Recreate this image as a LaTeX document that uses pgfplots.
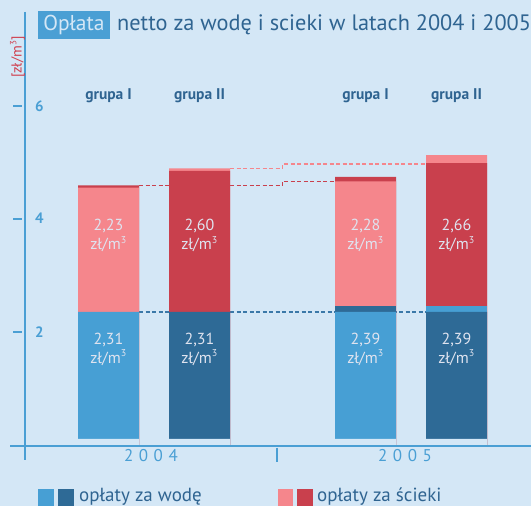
\documentclass[border=0pt]{standalone}
\usepackage{fontspec}
\setmainfont{PT Sans}
\usepackage{pgfplots}
\pgfplotsset{compat=1.18}
\definecolor{bg}{HTML}{D4E7F6}
\definecolor{lblue}{HTML}{479FD4}
\definecolor{dblue}{HTML}{2E6A96}
\definecolor{pinkc}{HTML}{F5868C}
\definecolor{dred}{HTML}{C9404D}
\definecolor{txtblue}{HTML}{2F6491}
\definecolor{axblue}{HTML}{4A9FD4}
\definecolor{inner}{HTML}{DFE3EF}
\definecolor{ylab}{HTML}{D0404F}
\definecolor{dashblue}{HTML}{3A78A8}
\begin{document}
\begin{tikzpicture}[x=1pt,y=1pt]
\path[use as bounding box, clip] (0,0) rectangle (531,506);
\fill[bg] (0,0) rectangle (531,506);
\begin{axis}[at={(0,0)}, anchor=south west, scale only axis,
  width=531pt, height=506pt, xmin=0, xmax=531, ymin=-1.0689, ymax=7.8710,
  hide axis, clip=false,
  mybar/.style={ybar, bar width=61pt, bar shift=0pt, draw=none}]
% connector lines
\addplot[dashblue, line width=1.4pt, dash pattern=on 4pt off 2.5pt] coordinates {(139,2.359) (426,2.359)};
\addplot[dred, line width=1.4pt, dash pattern=on 4pt off 2.5pt] coordinates {(139,4.590) (282.7,4.590) (282.7,4.668) (335,4.668)};
\addplot[pinkc, line width=1.4pt, dash pattern=on 4pt off 2.5pt] coordinates {(230,4.8975) (282.7,4.8975) (282.7,4.9735) (426,4.9735)};
% bars (cumulative tops, drawn from the top layer down)
\addplot[mybar, fill=dred] coordinates {(108.5,4.594) (365.5,4.744)};
\addplot[mybar, fill=pinkc] coordinates {(199.5,4.898) (456.5,5.132)};
\addplot[mybar, fill=pinkc] coordinates {(108.5,4.555) (365.5,4.668)};
\addplot[mybar, fill=dred] coordinates {(199.5,4.850) (456.5,4.991)};
\addplot[mybar, fill=dblue] coordinates {(365.5,2.465)};
\addplot[mybar, fill=lblue] coordinates {(456.5,2.465)};
\addplot[mybar, fill=lblue] coordinates {(108.5,2.359) (365.5,2.359)};
\addplot[mybar, fill=dblue] coordinates {(199.5,2.359) (456.5,2.359)};
\addplot[mybar, fill=bg] coordinates {(108.5,0.1148) (199.5,0.1148) (365.5,0.1148) (456.5,0.1148)};
% value labels
\begin{scope}[every node/.style={align=center, text=inner, font=\fontsize{16}{19}\selectfont}]
\node at (axis cs:108.5,3.71) {2,23\\zł/m\textsuperscript{\fontsize{10}{10}\selectfont 3}};
\node at (axis cs:199.5,3.71) {2,60\\zł/m\textsuperscript{\fontsize{10}{10}\selectfont 3}};
\node at (axis cs:365.5,3.71) {2,28\\zł/m\textsuperscript{\fontsize{10}{10}\selectfont 3}};
\node at (axis cs:456.5,3.71) {2,66\\zł/m\textsuperscript{\fontsize{10}{10}\selectfont 3}};
\node at (axis cs:108.5,1.705) {2,31\\zł/m\textsuperscript{\fontsize{10}{10}\selectfont 3}};
\node at (axis cs:199.5,1.705) {2,31\\zł/m\textsuperscript{\fontsize{10}{10}\selectfont 3}};
\node at (axis cs:365.5,1.705) {2,39\\zł/m\textsuperscript{\fontsize{10}{10}\selectfont 3}};
\node at (axis cs:456.5,1.705) {2,39\\zł/m\textsuperscript{\fontsize{10}{10}\selectfont 3}};
\end{scope}
\end{axis}
% axes
\draw[axblue, line width=2pt] (24.7,494) -- (24.7,46);
\draw[axblue, line width=2pt] (10,60.3) -- (531,60.3);
\foreach \y in {106,218.7,332.3} \draw[axblue, line width=2pt] (13,506-\y) -- (22,506-\y);
\draw[axblue, line width=2pt] (277,58) -- (277,44.3);
\begin{scope}[every node/.style={text=axblue, font=\bfseries\fontsize{15}{15}\selectfont}]
\node at (39.5,400) {6};
\node at (39.5,287.3) {4};
\node at (39.5,173.7) {2};
\end{scope}
\node[rotate=90, text=ylab, font=\fontsize{14.5}{14.5}\selectfont] at (17.5,449) {[zł/m\textsuperscript{\fontsize{9}{9}\selectfont 3}]};
% years
\node[text=axblue, font=\fontsize{17}{17}\selectfont] at (151,50) {2\hspace{5.5pt}0\hspace{5.5pt}0\hspace{5.5pt}4};
\node[text=axblue, font=\fontsize{17}{17}\selectfont] at (405,50) {2\hspace{5.5pt}0\hspace{5.5pt}0\hspace{5.5pt}5};
% group labels
\begin{scope}[every node/.style={text=txtblue, font=\bfseries\fontsize{15.5}{16}\selectfont}]
\node at (108.5,410) {grupa I};
\node at (199.5,410) {grupa II};
\node at (365.5,410) {grupa I};
\node at (456.5,410) {grupa II};
\end{scope}
% title
\fill[axblue] (38.3,467) rectangle (110,495);
\node[anchor=base, text=bg, font=\fontsize{21.5}{21.5}\selectfont, inner sep=0pt] at (74,475) {Opłata};
\node[anchor=base west, text=txtblue, font=\fontsize{22.3}{22.3}\selectfont, inner sep=0pt] at (117,475) {netto za wodę i scieki w latach 2004 i 2005};
% legend
\fill[lblue] (38.3,17) rectangle (54,0);
\fill[dblue] (58.3,17) rectangle (73.7,0);
\node[anchor=base west, text=txtblue, font=\fontsize{19}{19}\selectfont, inner sep=0pt] at (79,4) {opłaty za wodę};
\fill[pinkc] (277.7,17) rectangle (293.3,0);
\fill[dred] (297.3,17) rectangle (313,0);
\node[anchor=base west, text=txtblue, font=\fontsize{19}{19}\selectfont, inner sep=0pt] at (317,4) {opłaty za ścieki};
\end{tikzpicture}
\end{document}
